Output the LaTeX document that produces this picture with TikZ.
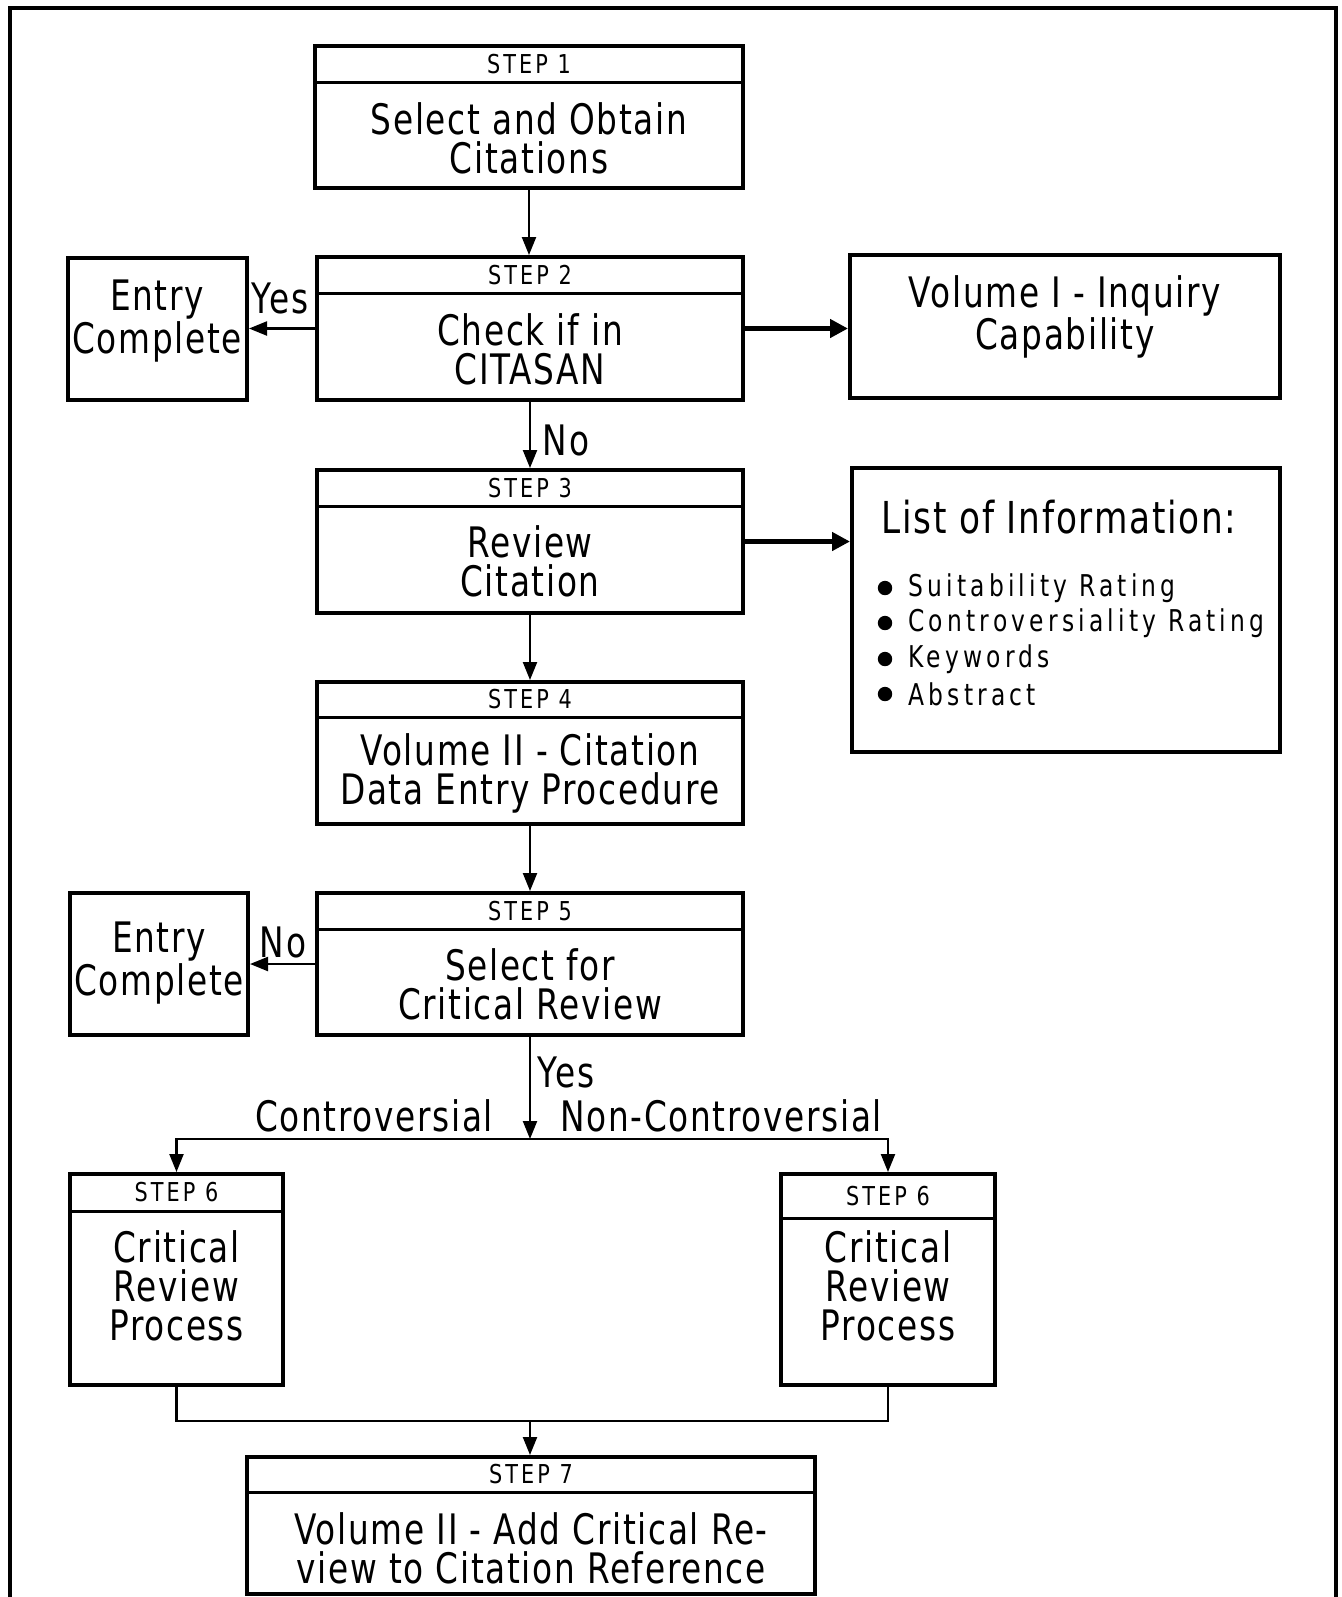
\documentclass[tikz,border=0pt]{standalone}
\usepackage{fontspec}
\setmainfont{DejaVu Sans}[FakeStretch=0.78,LetterSpace=4]
\newfontfamily\stepfont{DejaVu Sans}[FakeStretch=0.8,LetterSpace=12]
\newfontfamily\itemfont{DejaVu Sans}[FakeStretch=0.78,LetterSpace=14]
\usetikzlibrary{arrows.meta,fit}
\tikzset{
  box/.style={draw,line width=2pt,inner sep=0pt},
  hdr/.style={line width=1.5pt},
  conn/.style={line width=1.1pt},
  arr/.style={conn,-{Triangle[length=9pt,width=7pt]}},
  thickarr/.style={line width=2.5pt,-{Triangle[length=9pt,width=9pt]}},
  main/.style={font=\fontsize{21}{19.5}\selectfont,align=center,inner sep=0pt},
  steplabel/.style={font=\stepfont\fontsize{13}{15}\selectfont,inner sep=0pt},
  lab/.style={font=\fontsize{21}{19.5}\selectfont,inner sep=0pt},
  itm/.style={font=\itemfont\fontsize{15}{16}\selectfont,anchor=west,inner sep=0pt},
  frame/.style={line width=2pt}
}
% name, x1, y1, x2, y2, header y, step text, body y, body text
\newcommand\stepbox[9]{%
  \node[box,fit={(#2,#3) (#4,#5)}] (#1) {};
  \draw[hdr] (#2,#6) -- (#4,#6);
  \node[steplabel] (#1h) at ({(#2+#4)/2},{(#3+#6)/2}) {#7};
  \node[main] (#1t) at ({(#2+#4)/2},#8) {#9};
}
\begin{document}
\begin{tikzpicture}[x=0.5pt,y=-0.5pt]
\useasboundingbox (0,0) rectangle (1341,1597);
\draw[frame] (10,1597) -- (10,8) -- (1336,8) -- (1336,1597);

\stepbox{s1}{315}{46}{743}{188}{82}{STEP 1}{138}{Select and Obtain\\Citations}
\stepbox{s2}{317}{257}{743}{400}{293}{STEP 2}{349}{Check if in\\CITASAN}
\stepbox{s3}{317}{470}{743}{613}{506}{STEP 3}{561}{Review\\Citation}
\stepbox{s4}{317}{682}{743}{824}{717}{STEP 4}{773}{Volume II - Citation\\Data Entry Procedure}
\stepbox{s5}{317}{893}{743}{1035}{929}{STEP 5}{984}{Select for\\Critical Review}
\stepbox{s6a}{70}{1174}{283}{1385}{1211}{STEP 6}{1286}{Critical\\Review\\Process}
\stepbox{s6b}{781}{1174}{995}{1385}{1218}{STEP 6}{1286}{Critical\\Review\\Process}
\stepbox{s7}{247}{1457}{815}{1594}{1492}{STEP 7}{1548}{Volume II - Add Critical Re-\\view to Citation Reference}

\node[box,fit={(68,258) (247,400)}] (e1) {};
\node[main] (e1t) at (157,321) {Entry\\Complete};
\node[box,fit={(850,255) (1280,398)}] (v1) {};
\node[main] (v1t) at (1065,317) {Volume I - Inquiry\\Capability};
\node[box,fit={(70,893) (248,1035)}] (e2) {};
\node[main] (e2t) at (159,963) {Entry\\Complete};

\node[box,fit={(852,468) (1280,752)}] (info) {};
\node[lab,anchor=west,font=\fontsize{22}{20}\selectfont] (infot) at (881,517) {List of Information:};
\fill (885,588) circle (3.6pt);
\node[itm] (i1) at (908,588) {Suitability Rating};
\fill (885,623) circle (3.6pt);
\node[itm] (i2) at (908,623) {Controversiality Rating};
\fill (885,659) circle (3.6pt);
\node[itm] (i3) at (908,659) {Keywords};
\fill (885,694) circle (3.6pt);
\node[itm] (i4) at (908,694) {Abstract};

\node[lab] (yes1) at (280,298) {Yes};
\node[lab] (no1) at (566,440) {No};
\node[lab] (no2) at (283,942) {No};
\node[lab] (yes2) at (566,1072) {Yes};
\node[lab] (contr) at (374,1116) {Controversial};
\node[lab] (ncontr) at (721,1116) {Non-Controversial};

\draw[arr] (s1.south) -- (s1.south |- s2.north);
\draw[arr] (s2.west) -- (s2.west -| e1.east);
\draw[thickarr] (s2.east) -- (s2.east -| v1.west);
\draw[arr] (s2.south) -- (s2.south |- s3.north);
\draw[thickarr] (s3.east) -- (s3.east -| info.west);
\draw[arr] (s3.south) -- (s3.south |- s4.north);
\draw[arr] (s4.south) -- (s4.south |- s5.north);
\draw[arr] (s5.west) -- (s5.west -| e2.east);
\coordinate (br) at (530,1139);
\draw[arr] (s5.south) -- (br);
\draw[arr] (br) -| (s6a.north);
\draw[arr] (br) -| (s6b.north);
\coordinate (mg) at (530,1421);
\draw[conn] (s6a.south) |- (mg) -| (s6b.south);
\draw[arr] (mg) -- (mg |- s7.north);
\end{tikzpicture}
\end{document}
